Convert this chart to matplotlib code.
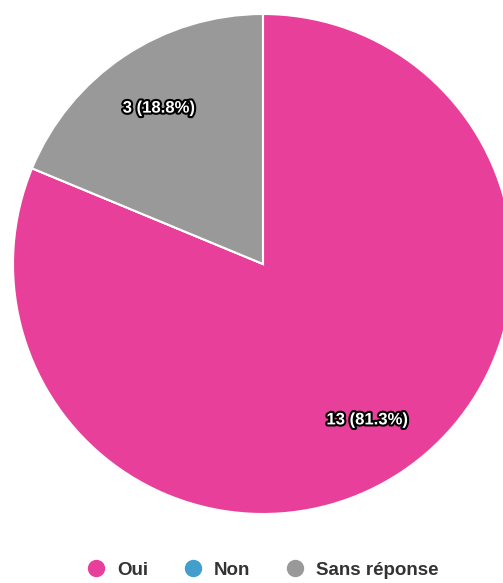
import math
import matplotlib.pyplot as plt
import matplotlib.patheffects as pe
from matplotlib.lines import Line2D

# Data
categories = ["Oui", "Non", "Sans réponse"]
counts = [13, 0, 3]
colors = ["#E8409A", "#419ECD", "#999999"]

plt.rcParams['font.family'] = ['Liberation Sans', 'DejaVu Sans']

fig = plt.figure(figsize=(5.03, 5.83), dpi=100)
ax = fig.add_axes([0, 0, 1, 1])

total = sum(counts)

def label_fmt(pct):
    n = int(round(pct * total / 100.0))
    if n == 0:
        return ''
    # round half up like the original chart
    p = math.floor(n / total * 1000 + 0.5) / 10
    return f'{n} ({p:.1f}%)'

wedges, texts, autotexts = ax.pie(counts, colors=colors, startangle=90, counterclock=False,
                                  center=(263, 583 - 264), radius=250, frame=True,
                                  autopct=label_fmt, pctdistance=0.75,
                                  wedgeprops=dict(edgecolor='white', linewidth=1.5))
ax.set_xlim(0, 503)
ax.set_ylim(0, 583)
ax.axis('off')

for t in autotexts:
    t.set_color('white')
    t.set_fontsize(12)
    t.set_fontweight('bold')
    t.set_path_effects([pe.withStroke(linewidth=3, foreground='black')])

# Legend
handles = [Line2D([0], [0], marker='o', linestyle='', markersize=11.5,
                  markerfacecolor=c, markeredgecolor=c) for c in colors]
leg = fig.legend(handles, categories, loc='center', bbox_to_anchor=(0.522, 0.022),
                 ncol=3, frameon=False, handlelength=1.0, handletextpad=0.6,
                 columnspacing=1.9, prop={'weight': 'bold', 'size': 13.5})
for t in leg.get_texts():
    t.set_color('#333333')

plt.savefig("out.png", dpi=100)
